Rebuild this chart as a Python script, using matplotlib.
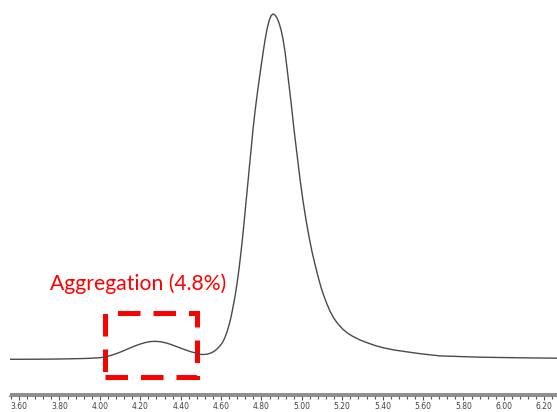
import matplotlib
matplotlib.use("Agg")
import matplotlib.pyplot as plt
from matplotlib.patches import Rectangle
from matplotlib.ticker import MultipleLocator, FormatStrFormatter

# Chromatogram trace: retention time (min) and detector signal (a.u.)
time_min = [3.555, 3.704, 3.803, 3.902, 3.951, 4.001, 4.026, 4.050, 4.075, 4.100,
            4.125, 4.150, 4.174, 4.199, 4.224, 4.249, 4.273, 4.298, 4.323, 4.348,
            4.372, 4.397, 4.422, 4.447, 4.471, 4.486, 4.506, 4.526, 4.541, 4.555,
            4.570, 4.585, 4.600, 4.610, 4.620, 4.630, 4.640, 4.650, 4.659, 4.669,
            4.679, 4.689, 4.699, 4.709, 4.719, 4.729, 4.739, 4.749, 4.758, 4.768,
            4.778, 4.788, 4.798, 4.808, 4.818, 4.828, 4.838, 4.848, 4.857, 4.867,
            4.877, 4.887, 4.897, 4.907, 4.917, 4.932, 4.947, 4.961, 4.976, 4.991,
            5.006, 5.021, 5.036, 5.050, 5.065, 5.080, 5.095, 5.110, 5.125, 5.140,
            5.159, 5.179, 5.204, 5.229, 5.253, 5.288, 5.323, 5.362, 5.402, 5.451,
            5.501, 5.585, 5.684, 5.882, 6.080, 6.263]
signal = [0.2, 0.3, 0.5, 0.9, 1.2, 1.8, 2.6, 3.8, 5.4, 7.3,
          9.4, 11.6, 13.6, 15.4, 16.9, 17.9, 18.2, 17.8, 16.8, 15.3,
          13.5, 11.6, 9.7, 8.0, 6.6, 5.4, 5.0, 5.2, 5.9, 7.0,
          8.8, 11.5, 15.0, 18.0, 22.5, 28.0, 35.0, 43.0, 52.5, 63.0,
          76.0, 91.0, 108.0, 127.0, 148.0, 169.0, 190.0, 211.0, 230.0, 248.0,
          264.0, 279.0, 293.0, 307.0, 320.0, 331.0, 339.0, 344.0, 345.5, 344.5,
          341.5, 336.5, 329.5, 320.0, 307.0, 282.0, 256.0, 230.0, 205.0, 180.0,
          158.0, 139.0, 122.0, 108.0, 95.0, 83.0, 72.0, 63.0, 55.0, 48.0,
          41.0, 35.5, 30.0, 26.0, 23.0, 19.5, 16.8, 14.0, 11.8, 9.7,
          8.2, 5.8, 3.6, 2.3, 1.7, 1.3]

# Aggregate region highlighted on the chromatogram
agg_label = "Aggregation (4.8%)"
agg_start, agg_end = 4.026, 4.481

fig = plt.figure(figsize=(5.57, 4.12), dpi=100)
ax = fig.add_axes([10 / 557, 16 / 412, 547 / 557, 396 / 412])

ax.plot(time_min, signal, color="#4a4a4a", lw=1.0, solid_joinstyle="round")

ax.set_xlim(3.555, 6.263)
ax.set_ylim(-36.5, 359.5)

for side in ("top", "left", "right"):
    ax.spines[side].set_visible(False)
ax.spines["bottom"].set_color("#7a7a7a")
ax.spines["bottom"].set_linewidth(1.2)
ax.axhline(-34.0, color="#7a7a7a", lw=1.2)

ax.set_yticks([])
ax.xaxis.set_major_locator(MultipleLocator(0.2))
ax.xaxis.set_minor_locator(MultipleLocator(0.04))
ax.xaxis.set_major_formatter(FormatStrFormatter("%.2f"))
ax.tick_params(axis="x", which="major", length=3, width=0.8, color="#555555",
               pad=1, labelsize=5.5, labelcolor="#404040")
ax.tick_params(axis="x", which="minor", length=1.8, width=0.8, color="#555555")
for lbl in ax.get_xticklabels():
    lbl.set_family(["Liberation Sans Narrow", "DejaVu Sans"])

# Dashed box around the aggregate peak
ax.add_patch(Rectangle((agg_start, -17.2), agg_end - agg_start, 63.4,
                       fill=False, edgecolor="#ff0000", lw=3.6,
                       linestyle=(0, (4.5, 2.6)), clip_on=False))
ax.text(3.753, 69.5, agg_label, color="#ff0000", fontsize=15.2,
        family=["Lato", "DejaVu Sans"], ha="left", va="baseline")

fig.savefig("out.png", dpi=100)
